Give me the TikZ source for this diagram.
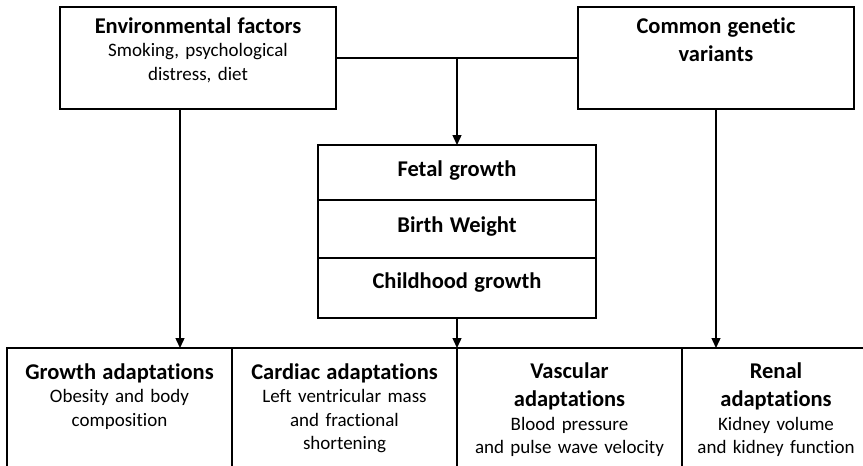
\documentclass[tikz,border=0pt]{standalone}
\usepackage{fontspec}
\setmainfont{Carlito}[Ligatures=NoCommon]
\usetikzlibrary{arrows.meta,positioning}
\newcommand{\boxhead}[1]{{\fontsize{22.5}{28}\selectfont\bfseries #1}}

\begin{document}
\begin{tikzpicture}[x=1pt,y=-1pt,>={Triangle[length=10pt,width=9pt]},line width=1.4pt,
  box/.style={draw,minimum width=276pt,minimum height=102pt,inner sep=0pt,outer sep=0pt,anchor=north west},
  cell/.style={draw,minimum width=278pt,inner sep=0pt,outer sep=0pt,anchor=north west},
  txt/.style={anchor=base,align=center,text width=230pt,inner sep=0pt,font=\fontsize{19}{23.5}\selectfont}]
\useasboundingbox (0,0) rectangle (863,466);
% sources
\node[box] (env) at (60,7) {};
\node[box] (gen) at (578,7) {};
\node[txt] (envtxt) at (198,33) {\boxhead{Environmental factors}\\ Smoking, psychological\\ distress, diet};
\node[txt] (gentxt) at (716,33) {\boxhead{Common genetic}\\[5pt]\boxhead{variants}};
% growth stack
\node[cell,minimum height=55pt] (fetal) at (318,145) {};
\node[cell,minimum height=58pt,below=0pt of fetal] (birth) {};
\node[cell,minimum height=60pt,below=0pt of birth] (child) {};
\node[txt] (fetaltxt) at (457,176) {\boxhead{Fetal growth}};
\node[txt] (birthtxt) at (457,232) {\boxhead{Birth Weight}};
\node[txt] (childtxt) at (457,288) {\boxhead{Childhood growth}};
% outcome row
\coordinate (growthtop) at (180,348);
\draw (7,466) -- (7,348) -- (863,348);
\foreach \x in {232,457,682}
  \draw (\x,348) -- (\x,466);
\node[txt] (growth) at (119.5,379) {\boxhead{Growth adaptations}\\ Obesity and body\\ composition};
\node[txt] (cardiac) at (344.5,379) {\boxhead{Cardiac adaptations}\\ Left ventricular mass\\ and fractional\\ shortening};
\node[txt] (vascular) at (569.5,378) {\boxhead{Vascular}\\[5pt]\boxhead{adaptations}\\ Blood pressure\\ and pulse wave velocity};
\node[txt] (renal) at (776,378) {\boxhead{Renal}\\[5pt]\boxhead{adaptations}\\ Kidney volume\\ and kidney function};
% arrows
\coordinate (split) at (fetal.north |- env.east);
\draw (env.east) -- (gen.west);
\draw[->] (split) -- (fetal.north);
\draw[->] (env.south -| growthtop) -- (growthtop);
\draw[->] (child.south) -- (child.south |- growthtop);
\draw[->] (gen.south) -- (gen.south |- growthtop);
\end{tikzpicture}
\end{document}
